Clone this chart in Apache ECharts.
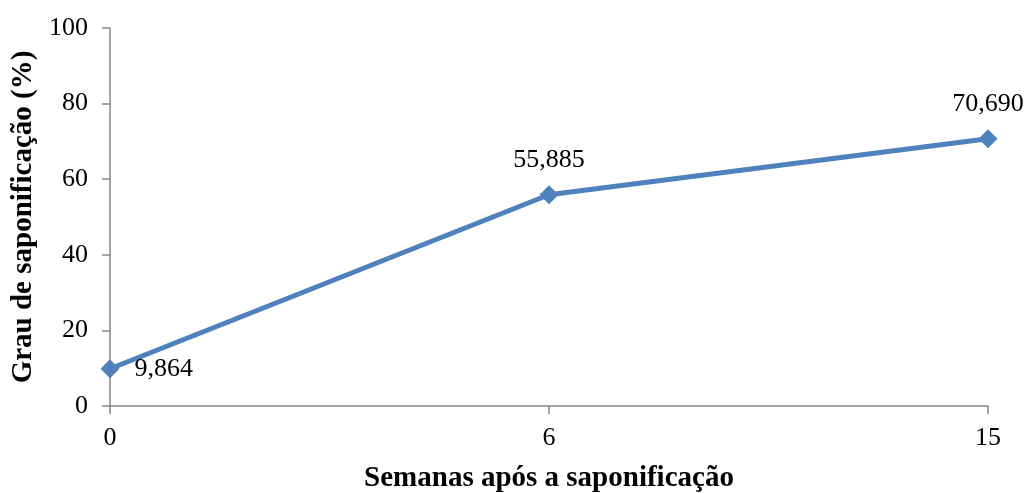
<!DOCTYPE html>
<html>
<head>
<meta charset="utf-8">
<script src="https://cdn.jsdelivr.net/npm/echarts@6/dist/echarts.min.js"></script>
<style>
  html, body { margin: 0; padding: 0; background: #ffffff; }
  #chart { width: 1025px; height: 493px; }
</style>
</head>
<body>
<div id="chart"></div>
<script>
// Weeks after saponification and measured degree of saponification (%)
const weeks = ['0', '6', '15'];
const saponification = [9.864, 55.885, 70.690];
const labelPositions = ['right', 'top', 'top'];
const yTicks = { min: 0, max: 100, interval: 20 };

const fontFamily = '"Liberation Serif", "Times New Roman", serif';
const axisGray = '#868686';
const lineBlue = '#4F81BD';

const fmt = v => v.toFixed(3).replace('.', ',');

const chart = echarts.init(document.getElementById('chart'), null, { renderer: 'canvas' });

chart.setOption({
  animation: false,
  backgroundColor: '#ffffff',
  grid: { left: 110, right: 37, top: 28, bottom: 87, containLabel: false, outerBoundsMode: 'none' },
  xAxis: {
    type: 'category',
    data: weeks,
    boundaryGap: false,
    name: 'Semanas após a saponificação',
    nameLocation: 'middle',
    nameGap: 58,
    nameTextStyle: { fontFamily, fontSize: 29, fontWeight: 'bold', color: '#000' },
    axisLine: { lineStyle: { color: axisGray, width: 1.5 } },
    axisTick: { show: true, alignWithLabel: true, length: 8, lineStyle: { color: axisGray, width: 1.5 } },
    axisLabel: { fontFamily, fontSize: 26, color: '#000', margin: 19 },
    splitLine: { show: false }
  },
  yAxis: {
    type: 'value',
    min: yTicks.min,
    max: yTicks.max,
    interval: yTicks.interval,
    name: 'Grau de saponificação (%)',
    nameLocation: 'middle',
    nameGap: 70,
    nameTextStyle: { fontFamily, fontSize: 29, fontWeight: 'bold', color: '#000' },
    axisLine: { show: true, lineStyle: { color: axisGray, width: 1.5 } },
    axisTick: { show: true, length: 8, lineStyle: { color: axisGray, width: 1.5 } },
    axisLabel: { fontFamily, fontSize: 26, color: '#000', margin: 22 },
    splitLine: { show: false }
  },
  series: [{
    type: 'line',
    data: saponification.map((v, i) => ({
      value: v,
      label: { position: labelPositions[i], distance: labelPositions[i] === 'right' ? 15 : 12 }
    })),
    symbol: 'diamond',
    symbolSize: 19,
    lineStyle: { color: lineBlue, width: 5 },
    itemStyle: { color: lineBlue },
    label: {
      show: true,
      fontFamily,
      fontSize: 26,
      color: '#000',
      formatter: p => fmt(p.value)
    }
  }]
});
</script>
</body>
</html>
